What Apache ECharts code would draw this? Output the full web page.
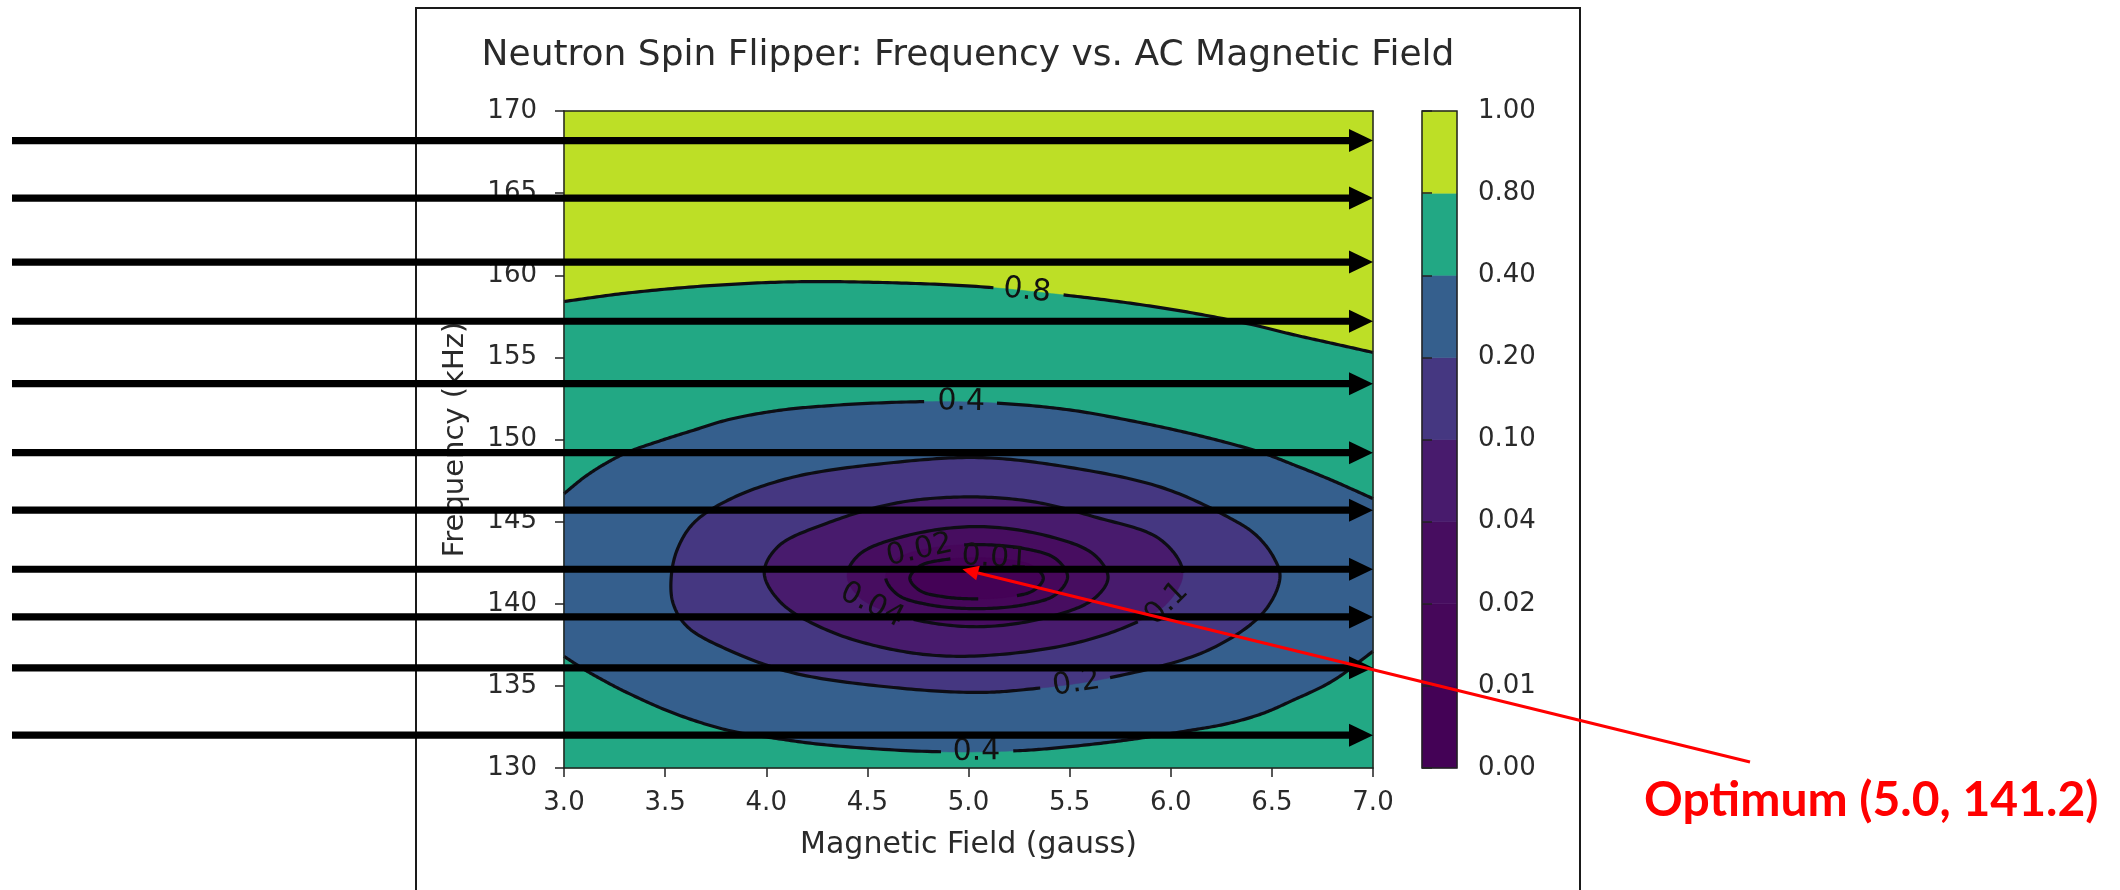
<!DOCTYPE html>
<html>
<head>
<meta charset="utf-8">
<title>Neutron Spin Flipper: Frequency vs. AC Magnetic Field</title>
<script src="https://cdn.jsdelivr.net/npm/echarts@6/dist/echarts.min.js"></script>
<style>
  html, body { margin: 0; padding: 0; background: #fff; }
  #chart { width: 2120px; height: 890px; }
</style>
</head>
<body>
<div id="chart"></div>
<script>
// axis ranges
const xMin = 3, xMax = 7, xStep = 0.5;
const yMin = 130, yMax = 170, yStep = 5;

// contourf levels and colorbar tick labels
const levels = [0, 0.01, 0.02, 0.04, 0.1, 0.2, 0.4, 0.8, 1.0];
const levelLabels = ['0.00', '0.01', '0.02', '0.04', '0.10', '0.20', '0.40', '0.80', '1.00'];

// contour lines, [field (gauss), frequency (kHz)]
const c08 = [[3.0, 158.4], [3.3, 158.9], [3.7, 159.35], [4.13, 159.6], [4.6, 159.55], [5.06, 159.3], [5.47, 158.8],
  [5.8, 158.3], [6.11, 157.7], [6.4, 157.0], [6.6, 156.4], [6.8, 155.85], [7.0, 155.3]];
const c04top = [[3.0, 146.7], [3.1, 147.7], [3.2, 148.5], [3.31, 149.2], [3.47, 149.9], [3.65, 150.6], [3.81, 151.2],
  [4.05, 151.75], [4.3, 152.05], [4.76, 152.3], [5.16, 152.2], [5.5, 151.8], [5.78, 151.2], [6.05, 150.5],
  [6.28, 149.8], [6.45, 149.2], [6.6, 148.5], [6.8, 147.5], [7.0, 146.4]];
const c04bottom = [[3.0, 136.8], [3.1, 136.0], [3.2, 135.3], [3.31, 134.6], [3.55, 133.3], [3.81, 132.3], [4.05, 131.8],
  [4.3, 131.4], [4.82, 131.0], [5.24, 131.05], [5.5, 131.3], [5.78, 131.7], [6.05, 132.2], [6.28, 132.7],
  [6.45, 133.3], [6.6, 134.1], [6.8, 135.3], [7.0, 137.1]];
const c02 = [[3.53, 141.6], [3.56, 143.3], [3.64, 144.9], [3.81, 146.3], [4.13, 147.7], [4.63, 148.6], [5.05, 148.9],
  [5.45, 148.4], [5.95, 147.1], [6.28, 145.3], [6.42, 144.2], [6.51, 142.8], [6.54, 141.6], [6.46, 139.5],
  [6.19, 137.2], [5.7, 135.5], [5.3, 134.8], [5.05, 134.6], [4.63, 134.9], [4.13, 135.8], [3.81, 137.2],
  [3.61, 138.6], [3.54, 140.0]];
const c01 = [[3.99, 141.9], [4.06, 143.5], [4.3, 144.9], [4.63, 146.1], [4.96, 146.5], [5.3, 146.25], [5.62, 145.3],
  [5.95, 143.9], [6.06, 141.9], [5.98, 140.0], [5.78, 138.6], [5.45, 137.4], [4.96, 136.8], [4.63, 137.2],
  [4.3, 138.4], [4.07, 140.1]];
const c004 = [[4.40, 141.7], [4.46, 143.0], [4.68, 144.1], [5.04, 144.7], [5.4, 144.1], [5.62, 143.0], [5.69, 141.6],
  [5.62, 140.3], [5.4, 139.2], [5.04, 138.6], [4.68, 139.2], [4.46, 140.4]];
const c002 = [[4.59, 141.65], [4.65, 142.75], [4.8, 143.35], [5.04, 143.6], [5.28, 143.35], [5.43, 142.75],
  [5.49, 141.65], [5.43, 140.55], [5.28, 139.95], [5.04, 139.7], [4.8, 139.95], [4.65, 140.55]];
const c001 = [[4.71, 141.55], [4.76, 142.3], [4.88, 142.68], [5.04, 142.8], [5.2, 142.68], [5.32, 142.3],
  [5.37, 141.55], [5.32, 140.8], [5.2, 140.42], [5.04, 140.3], [4.88, 140.42], [4.76, 140.8]];

// inline contour labels
const labelText = ['0.8', '0.4', '0.4', '0.2', '0.1', '0.04', '0.02', '0.01'];
const labelB = [5.28, 4.96, 5.04, 5.53, 6.0, 4.52, 4.76, 5.13];
const labelF = [159.0, 152.2, 131.0, 135.0, 139.8, 139.9, 143.2, 142.85];

// beam arrows (kHz) and the marked optimum
const beamFreq = [168.2, 164.7, 160.8, 157.2, 153.4, 149.2, 145.7, 142.1, 139.2, 136.1, 132.0];
const optimum = [4.97, 142.1];

// viridis colours of the 8 filled bands (low -> high)
const bandColors = ['#440256', '#46075a', '#470d60', '#481b6d', '#453781', '#355f8d', '#22a884', '#bddf26'];

const contours = [
  { level: '0.8', pts: c08, closed: false },
  { level: '0.4', pts: c04top, closed: false },
  { level: '0.4', pts: c04bottom, closed: false },
  { level: '0.2', pts: c02, closed: true },
  { level: '0.1', pts: c01, closed: true },
  { level: '0.04', pts: c004, closed: true },
  { level: '0.02', pts: c002, closed: true },
  { level: '0.01', pts: c001, closed: true }
];

// painter order for the filled regions
const fills = [
  { band: 7, kind: 'plot' },
  { band: 6, kind: 'below', c: 0 },
  { band: 5, kind: 'between', c: 1, c2: 2 },
  { band: 4, kind: 'ring', c: 3 },
  { band: 3, kind: 'ring', c: 4 },
  { band: 2, kind: 'ring', c: 5 },
  { band: 1, kind: 'ring', c: 6 },
  { band: 0, kind: 'ring', c: 7 }
];

const FONT = '"DejaVu Sans", sans-serif';
const TXT = '#2a2a2a';
const LABEL_SIZE = 30;

// centripetal catmull-rom through pixel points
function lerp(a, b, ta, tb, t) {
  if (tb - ta < 1e-9) return a.slice();
  const u = (t - ta) / (tb - ta);
  return [a[0] + (b[0] - a[0]) * u, a[1] + (b[1] - a[1]) * u];
}
function crPoint(p0, p1, p2, p3, s) {
  const d = (a, b) => Math.pow(Math.hypot(b[0] - a[0], b[1] - a[1]), 0.5) || 1e-6;
  const t0 = 0, t1 = t0 + d(p0, p1), t2 = t1 + d(p1, p2), t3 = t2 + d(p2, p3);
  const t = t1 + (t2 - t1) * s;
  const a1 = lerp(p0, p1, t0, t1, t), a2 = lerp(p1, p2, t1, t2, t), a3 = lerp(p2, p3, t2, t3, t);
  const b1 = lerp(a1, a2, t0, t2, t), b2 = lerp(a2, a3, t1, t3, t);
  return lerp(b1, b2, t1, t2, t);
}
function sample(px, closed, n) {
  const out = [];
  const m = px.length;
  const get = i => {
    if (closed) return px[(i + m) % m];
    if (i < 0) return [2 * px[0][0] - px[1][0], 2 * px[0][1] - px[1][1]];
    if (i > m - 1) return [2 * px[m - 1][0] - px[m - 2][0], 2 * px[m - 1][1] - px[m - 2][1]];
    return px[i];
  };
  const segs = closed ? m : m - 1;
  for (let i = 0; i < segs; i++) {
    const p0 = get(i - 1), p1 = get(i), p2 = get(i + 1), p3 = get(i + 2);
    for (let k = 0; k < n; k++) out.push(crPoint(p0, p1, p2, p3, k / n));
  }
  if (!closed) out.push(px[m - 1].slice());
  return out;
}

function contourPx(api, k) {
  const c = contours[k];
  return sample(c.pts.map(p => api.coord(p)), c.closed, 20);
}

function textWidth(s, size) {
  let w = 0;
  for (const ch of s) w += ch === '.' ? 0.318 : 0.636;
  return w * size;
}

// where every label sits: nearest point on its contour, rotated along it
function placeLabels(api) {
  const all = contours.map((c, k) => contourPx(api, k));
  return labelText.map((txt, j) => {
    const p = api.coord([labelB[j], labelF[j]]);
    let best = null;
    contours.forEach((c, k) => {
      if (c.level !== txt) return;
      all[k].forEach((q, i) => {
        const d = Math.hypot(q[0] - p[0], q[1] - p[1]);
        if (!best || d < best.d) best = { d, k, i };
      });
    });
    const s = all[best.k];
    const n = s.length;
    const closed = contours[best.k].closed;
    const ia = closed ? (best.i - 4 + n) % n : Math.max(0, best.i - 4);
    const ib = closed ? (best.i + 4) % n : Math.min(n - 1, best.i + 4);
    let ang = Math.atan2(-(s[ib][1] - s[ia][1]), s[ib][0] - s[ia][0]);
    if (ang > Math.PI / 2) ang -= Math.PI;
    if (ang < -Math.PI / 2) ang += Math.PI;
    return { x: s[best.i][0], y: s[best.i][1], ang, txt, host: best.k, r: textWidth(txt, LABEL_SIZE) / 2 + 10 };
  });
}

const chart = echarts.init(document.getElementById('chart'));

chart.setOption({
  animation: false,
  backgroundColor: '#fff',
  grid: [
    { left: 564, top: 111, width: 809, height: 657 },
    { left: 1422, top: 111, width: 35, height: 657 }
  ],
  xAxis: [
    {
      gridIndex: 0, type: 'value', min: xMin, max: xMax, interval: xStep, z: 4,
      name: 'Magnetic Field (gauss)', nameLocation: 'middle', nameGap: 62,
      nameTextStyle: { fontFamily: FONT, fontSize: 30, color: TXT },
      axisLine: { lineStyle: { color: '#222', width: 1.5 } },
      axisTick: { length: 9, lineStyle: { color: '#222', width: 1.5 } },
      axisLabel: { fontFamily: FONT, fontSize: 26, color: TXT, margin: 22, formatter: v => v.toFixed(1) },
      splitLine: { show: false }
    },
    {
      gridIndex: 0, type: 'value', min: xMin, max: xMax, position: 'top', z: 4,
      axisLine: { lineStyle: { color: '#222', width: 1.5 } },
      axisTick: { show: false }, axisLabel: { show: false }, splitLine: { show: false }
    },
    { gridIndex: 1, type: 'value', min: 0, max: 1, show: false }
  ],
  yAxis: [
    {
      gridIndex: 0, type: 'value', min: yMin, max: yMax, interval: yStep, z: 4,
      name: 'Frequency (kHz)', nameLocation: 'middle', nameGap: 94, nameRotate: 90,
      nameTextStyle: { fontFamily: FONT, fontSize: 29, color: TXT },
      axisLine: { show: true, lineStyle: { color: '#222', width: 1.5 } },
      axisTick: { show: true, length: 9, lineStyle: { color: '#222', width: 1.5 } },
      axisLabel: { fontFamily: FONT, fontSize: 26, color: TXT, margin: 27 },
      splitLine: { show: false }
    },
    {
      gridIndex: 0, type: 'value', min: yMin, max: yMax, position: 'right', z: 4,
      axisLine: { show: true, lineStyle: { color: '#222', width: 1.5 } },
      axisTick: { show: false }, axisLabel: { show: false }, splitLine: { show: false }
    },
    {
      gridIndex: 1, type: 'value', min: 0, max: levels.length - 1, interval: 1, position: 'right', z: 4,
      axisLine: { show: false },
      axisTick: { show: true, length: 10, lineStyle: { color: '#222', width: 1.5 } },
      axisLabel: { fontFamily: FONT, fontSize: 26, color: TXT, margin: 21, formatter: v => levelLabels[Math.round(v)] },
      splitLine: { show: false }
    }
  ],
  graphic: [
    {
      type: 'rect', z: 0, silent: true,
      shape: { x: 416, y: 8, width: 1164, height: 1000 },
      style: { fill: 'none', stroke: '#1a1a1a', lineWidth: 2 }
    },
    {
      type: 'text', x: 968, y: 56, z: 5, silent: true,
      style: {
        text: 'Neutron Spin Flipper: Frequency vs. AC Magnetic Field',
        fontFamily: FONT, fontSize: 36, fill: TXT,
        align: 'center', verticalAlign: 'middle', textAlign: 'center', textVerticalAlign: 'middle'
      }
    },
    {
      type: 'text', x: 1644, y: 801, z: 9, silent: true,
      style: {
        text: 'Optimum (5.0, 141.2)',
        fontFamily: 'Lato, "Open Sans", sans-serif', fontWeight: 'bold', fontSize: 48, fill: '#ff0000',
        align: 'left', verticalAlign: 'middle', textAlign: 'left', textVerticalAlign: 'middle'
      }
    }
  ],
  series: [
    {
      // filled contour bands
      type: 'custom', name: 'bands', xAxisIndex: 0, yAxisIndex: 0, z: 1, silent: true,
      data: fills.map(() => [xMin, yMin]),
      renderItem(params, api) {
        const f = fills[params.dataIndex];
        let pts;
        if (f.kind === 'plot') {
          pts = [api.coord([xMin, yMin]), api.coord([xMax, yMin]), api.coord([xMax, yMax]), api.coord([xMin, yMax])];
        } else if (f.kind === 'below') {
          pts = contourPx(api, f.c).concat([api.coord([xMax, yMin]), api.coord([xMin, yMin])]);
        } else if (f.kind === 'between') {
          pts = contourPx(api, f.c).concat(contourPx(api, f.c2).reverse());
        } else {
          pts = contourPx(api, f.c);
        }
        return { type: 'polygon', shape: { points: pts }, style: { fill: bandColors[f.band], stroke: bandColors[f.band], lineWidth: 0.6 } };
      }
    },
    {
      // contour lines, broken where a label sits
      type: 'custom', name: 'lines', xAxisIndex: 0, yAxisIndex: 0, z: 2, silent: true,
      data: contours.map(() => [xMin, yMin]),
      renderItem(params, api) {
        const k = params.dataIndex;
        const s = contourPx(api, k);
        const labs = placeLabels(api).filter(l => l.host === k);
        const keep = s.map(q => labs.every(l => Math.hypot(q[0] - l.x, q[1] - l.y) > l.r));
        const runs = [];
        let cur = [];
        s.forEach((q, i) => {
          if (keep[i]) cur.push(q);
          else { if (cur.length > 1) runs.push(cur); cur = []; }
        });
        if (cur.length > 1) runs.push(cur);
        if (contours[k].closed && runs.length > 1 && keep[0] && keep[s.length - 1]) {
          const last = runs.pop();
          runs[0] = last.concat(runs[0]);
        } else if (contours[k].closed && runs.length === 1 && keep.every(v => v)) {
          runs[0].push(s[0]);
        }
        return {
          type: 'group',
          children: runs.map(r => ({
            type: 'polyline', shape: { points: r },
            style: { stroke: '#0d0d14', lineWidth: 3.2, fill: 'none', lineJoin: 'round' }
          }))
        };
      }
    },
    {
      // inline contour labels
      type: 'custom', name: 'labels', xAxisIndex: 0, yAxisIndex: 0, z: 3, silent: true,
      data: labelB.map((b, i) => [b, labelF[i]]),
      renderItem(params, api) {
        const l = placeLabels(api)[params.dataIndex];
        return {
          type: 'text', x: l.x, y: l.y, rotation: l.ang,
          style: {
            text: l.txt, fontFamily: FONT, fontSize: LABEL_SIZE, fill: '#111',
            align: 'center', verticalAlign: 'middle', textAlign: 'center', textVerticalAlign: 'middle'
          }
        };
      }
    },
    {
      // colorbar
      type: 'custom', name: 'colorbar', xAxisIndex: 2, yAxisIndex: 2, z: 1, silent: true,
      data: bandColors.map((c, i) => [0, i]),
      renderItem(params, api) {
        const i = params.dataIndex;
        const a = api.coord([0, i]);
        const b = api.coord([1, i + 1]);
        const children = [{
          type: 'rect', shape: { x: a[0], y: b[1], width: b[0] - a[0], height: a[1] - b[1] },
          style: { fill: bandColors[i], stroke: bandColors[i], lineWidth: 0.6 }
        }];
        if (i === bandColors.length - 1) {
          const lo = api.coord([0, 0]);
          children.push({
            type: 'rect', shape: { x: lo[0], y: b[1], width: b[0] - lo[0], height: lo[1] - b[1] },
            style: { fill: 'none', stroke: '#222', lineWidth: 1.5 }, z2: 10
          });
        }
        return { type: 'group', children };
      }
    },
    {
      // beam arrows coming in from the left
      type: 'custom', name: 'beams', xAxisIndex: 0, yAxisIndex: 0, z: 6, silent: true, clip: false,
      data: beamFreq.map(f => [xMax, f]),
      renderItem(params, api) {
        const tip = api.coord([api.value(0), api.value(1)]);
        const x0 = 12, head = 24, half = 11.5, th = 3.6;
        return {
          type: 'group',
          children: [
            { type: 'rect', shape: { x: x0, y: tip[1] - th, width: tip[0] - head - x0 + 1, height: th * 2 }, style: { fill: '#000' } },
            { type: 'polygon', shape: { points: [[tip[0] - head, tip[1] - half], [tip[0], tip[1]], [tip[0] - head, tip[1] + half]] }, style: { fill: '#000' } }
          ]
        };
      }
    },
    {
      // red callout to the optimum
      type: 'custom', name: 'optimum', xAxisIndex: 0, yAxisIndex: 0, z: 7, silent: true, clip: false,
      data: [optimum],
      renderItem(params, api) {
        const tip = api.coord([api.value(0), api.value(1)]);
        const tail = [1750, 762];
        const dx = tail[0] - tip[0], dy = tail[1] - tip[1];
        const len = Math.hypot(dx, dy);
        const ux = dx / len, uy = dy / len;
        const hl = 16, hw = 7.5;
        const base = [tip[0] + ux * hl, tip[1] + uy * hl];
        return {
          type: 'group',
          children: [
            { type: 'line', shape: { x1: base[0], y1: base[1], x2: tail[0], y2: tail[1] }, style: { stroke: '#ff0000', lineWidth: 3 } },
            { type: 'polygon', shape: { points: [tip, [base[0] - uy * hw, base[1] + ux * hw], [base[0] + uy * hw, base[1] - ux * hw]] }, style: { fill: '#ff0000' } }
          ]
        };
      }
    }
  ]
});
</script>
</body>
</html>
